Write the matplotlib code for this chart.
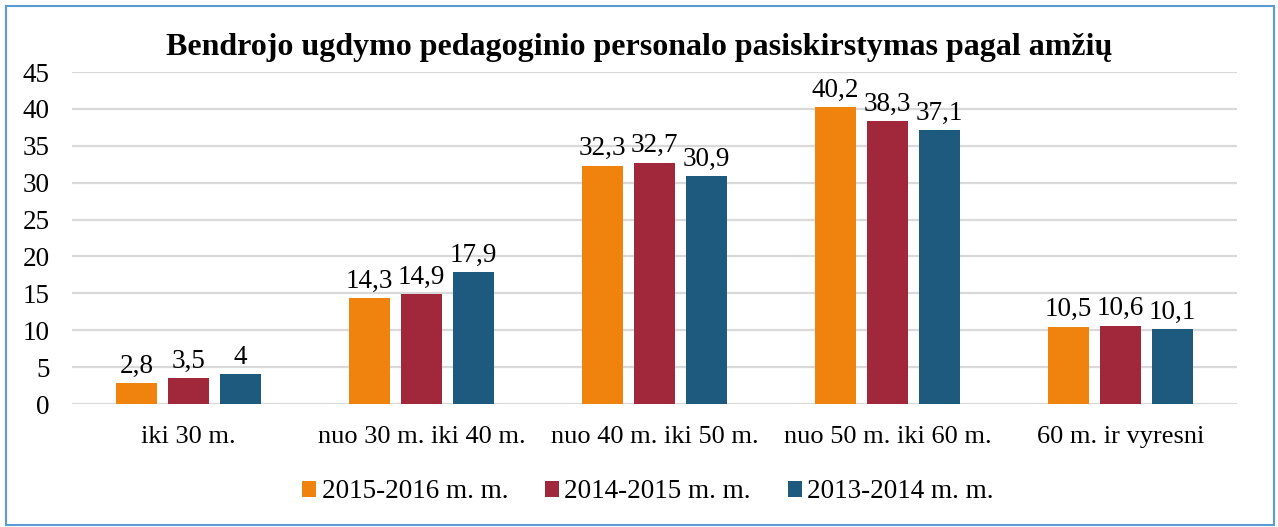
import matplotlib
matplotlib.use('Agg')
import matplotlib.pyplot as plt
from matplotlib.patches import Rectangle
import numpy as np

categories = ['iki 30 m.', 'nuo 30 m. iki 40 m.', 'nuo 40 m. iki 50 m.',
              'nuo 50 m. iki 60 m.', '60 m. ir vyresni']
series_names = ['2015-2016 m. m.', '2014-2015 m. m.', '2013-2014 m. m.']
v_2015 = [2.8, 14.3, 32.3, 40.2, 10.5]
v_2014 = [3.5, 14.9, 32.7, 38.3, 10.6]
v_2013 = [4, 17.9, 30.9, 37.1, 10.1]
colors = ['#f0820e', '#a0283a', '#1e5a7e']

plt.rcParams['font.family'] = ['Liberation Serif', 'DejaVu Serif']
fs = 19.5

fig = plt.figure(figsize=(12.78, 5.27), dpi=100)
ax = fig.add_axes([72 / 1278, 1 - 404 / 527, (1237 - 72) / 1278, (404 - 72) / 527])

x = np.arange(len(categories))
w = 0.176
step = 0.223
for i, (vals, c) in enumerate(zip([v_2015, v_2014, v_2013], colors)):
    pos = x + (i - 1) * step
    ax.bar(pos, vals, width=w, color=c, label=series_names[i], zorder=3)
    for xp, v in zip(pos, vals):
        txt = ('%g' % v).replace('.', ',')
        ax.text(xp, v + 0.6, txt, ha='center', va='bottom', fontsize=fs)

ax.set_xlim(-0.5, len(categories) - 0.5)
ax.set_ylim(0, 45)
ax.set_yticks(np.arange(0, 46, 5))
ax.set_xticks(x)
ax.set_xticklabels(categories, fontsize=19)
ax.tick_params(axis='y', labelsize=fs, length=0, pad=16)
ax.tick_params(axis='x', length=0, pad=16)
ax.grid(axis='y', color='#d9d9d9', linewidth=1.6, zorder=0)
for s in ax.spines.values():
    s.set_visible(False)

fig.text(0.5, 1 - 47 / 527, 'Bendrojo ugdymo pedagoginio personalo pasiskirstymas pagal amžių',
         ha='center', va='center', fontsize=23, fontweight='bold')

fig.legend(loc='center', bbox_to_anchor=(0.507, 1 - 492 / 527), ncol=3, frameon=False,
           fontsize=fs, handlelength=0.52, handleheight=0.52, handletextpad=0.2,
           columnspacing=1.35)

fig.patches.append(Rectangle((6 / 1278, 2 / 527), 1268 / 1278, 519 / 527,
                             transform=fig.transFigure, fill=False,
                             edgecolor='#5b9bd5', linewidth=1.5))

fig.savefig('out.png', dpi=100)
